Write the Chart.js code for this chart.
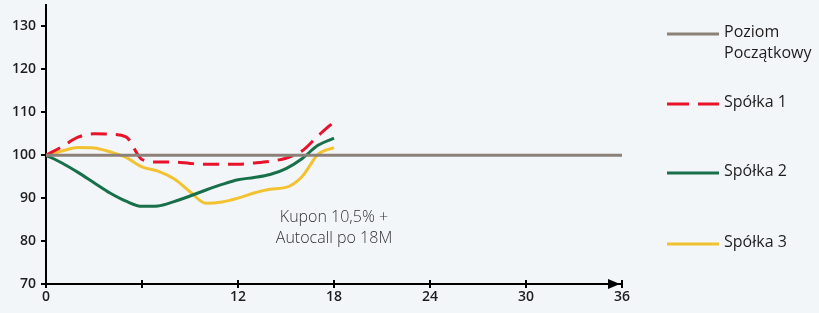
<!DOCTYPE html>
<html lang="pl">
<head>
<meta charset="UTF-8">
<title>Kupon 10,5% + Autocall</title>
<script src="https://cdn.jsdelivr.net/npm/chart.js@4"></script>
<style>
  html, body { margin: 0; padding: 0; background: #f3f6f9; }
  #wrap { position: relative; width: 819px; height: 313px; }
</style>
</head>
<body>
<div id="wrap"><canvas id="chart" width="819" height="313"></canvas></div>
<script>
// months 0..18
const months = [0,1,2,3,4,5,6,7,8,9,10,11,12,13,14,15,16,17,18];
const startLevel = [100, 100];
const startMonths = [0, 36];
const spolka1 = [100,102,104.2,105,104.9,104.3,99,98.4,98.4,98.1,97.9,97.9,97.9,98.2,98.6,99.3,101,104.5,107.8];
const spolka2 = [100,98.2,96,93.6,91.2,89.3,88.1,88.2,89.2,90.5,91.9,93.2,94.3,94.8,95.5,96.9,99.2,102.3,104];
const spolka3 = [100,101,101.8,101.7,100.8,99.5,97.3,96.3,94.5,91.5,88.8,89.1,90,91.2,92.1,92.5,95,100.2,101.8];
const xTicks = [0,6,12,18,24,30,36];
const xLabels = ['0','','12','18','24','30','36'];
const yTicks = [70,80,90,100,110,120,130];
const note = ['Kupon 10,5% +', 'Autocall po 18M'];

const pts = (xs, ys) => xs.map((x, i) => ({ x: x, y: ys[i] }));

const ctx = document.getElementById('chart');

const extras = {
  id: 'extras',
  beforeDraw(chart) {
    const c = chart.ctx;
    c.save();
    c.fillStyle = '#f3f6f9';
    c.fillRect(0, 0, chart.width, chart.height);
    c.restore();
  },
  afterDraw(chart) {
    const c = chart.ctx;
    const xs = chart.scales.x, ys = chart.scales.y;
    const bottom = chart.chartArea.bottom;
    c.save();
    // tick marks above the x axis
    c.strokeStyle = '#000';
    c.lineWidth = 2;
    xTicks.forEach(v => {
      if (v === 0) return;
      const px = xs.getPixelForValue(v);
      c.beginPath();
      c.moveTo(px, bottom - 4);
      c.lineTo(px, bottom);
      c.stroke();
    });
    // arrow head
    const end = xs.getPixelForValue(36);
    c.fillStyle = '#000';
    c.beginPath();
    c.moveTo(end - 14, bottom - 5);
    c.lineTo(end - 2, bottom);
    c.lineTo(end - 14, bottom + 5);
    c.closePath();
    c.fill();
    // annotation
    c.fillStyle = '#333';
    c.font = '300 16px "Open Sans", "Noto Sans", sans-serif';
    c.textAlign = 'center';
    c.textBaseline = 'middle';
    const nx = xs.getPixelForValue(18);
    c.fillText(note[0], nx, ys.getPixelForValue(85.6));
    c.fillText(note[1], nx, ys.getPixelForValue(80.7));
    // legend
    const rows = [
      { ds: 0, y: 34, lines: ['Poziom', 'Początkowy'] },
      { ds: 1, y: 104, lines: ['Spółka 1'] },
      { ds: 2, y: 173, lines: ['Spółka 2'] },
      { ds: 3, y: 244, lines: ['Spółka 3'] }
    ];
    c.textAlign = 'left';
    c.font = '500 16px "Open Sans", "Noto Sans", sans-serif';
    rows.forEach(r => {
      const d = chart.data.datasets[r.ds];
      c.strokeStyle = d.borderColor;
      c.lineWidth = 3;
      c.setLineDash(d.borderDash ? [22, 9] : []);
      c.beginPath();
      c.moveTo(667, r.y);
      c.lineTo(719, r.y);
      c.stroke();
      c.setLineDash([]);
      c.fillStyle = '#1e1e1e';
      r.lines.forEach((t, i) => c.fillText(t, 724, r.y - 2 + i * 21));
    });
    c.restore();
  }
};

new Chart(ctx, {
  type: 'line',
  data: {
    datasets: [
      { label: 'Poziom Początkowy', data: pts(startMonths, startLevel), borderColor: '#8c8178', borderWidth: 3, pointRadius: 0, tension: 0 },
      { label: 'Spółka 1', data: pts(months, spolka1), borderColor: '#e8132b', borderWidth: 3, borderDash: [16, 9], pointRadius: 0, cubicInterpolationMode: 'monotone' },
      { label: 'Spółka 2', data: pts(months, spolka2), borderColor: '#18704a', borderWidth: 3, pointRadius: 0, cubicInterpolationMode: 'monotone' },
      { label: 'Spółka 3', data: pts(months, spolka3), borderColor: '#f2c230', borderWidth: 3, pointRadius: 0, cubicInterpolationMode: 'monotone' }
    ]
  },
  options: {
    responsive: false,
    animation: false,
    devicePixelRatio: 1,
    layout: { padding: { top: 5, right: 197, left: 0, bottom: 0 } },
    plugins: { legend: { display: false }, tooltip: { enabled: false } },
    scales: {
      x: {
        type: 'linear',
        min: 0,
        max: 36,
        afterBuildTicks: s => { s.ticks = xTicks.map(v => ({ value: v })); },
        afterFit: s => { s.height = 29; },
        ticks: {
          callback: (v) => xLabels[xTicks.indexOf(v)],
          color: '#1e1e1e',
          font: { family: '"Open Sans"', size: 14, weight: '600' },
          padding: 1,
          maxRotation: 0
        },
        grid: { display: true, drawOnChartArea: false, color: '#000', lineWidth: 2, tickLength: 4 },
        border: { display: true, color: '#000', width: 2 }
      },
      y: {
        min: 70,
        max: 135,
        afterBuildTicks: s => { s.ticks = yTicks.map(v => ({ value: v })); },
        afterFit: s => { s.width = 46; s.paddingTop = 0; s.paddingBottom = 0; },
        ticks: {
          color: '#1e1e1e',
          font: { family: '"Open Sans"', size: 14, weight: '600' },
          padding: 5
        },
        grid: { display: true, drawOnChartArea: false, color: '#000', lineWidth: 2, tickLength: 5 },
        border: { display: true, color: '#000', width: 2 }
      }
    }
  },
  plugins: [extras]
});
</script>
</body>
</html>
